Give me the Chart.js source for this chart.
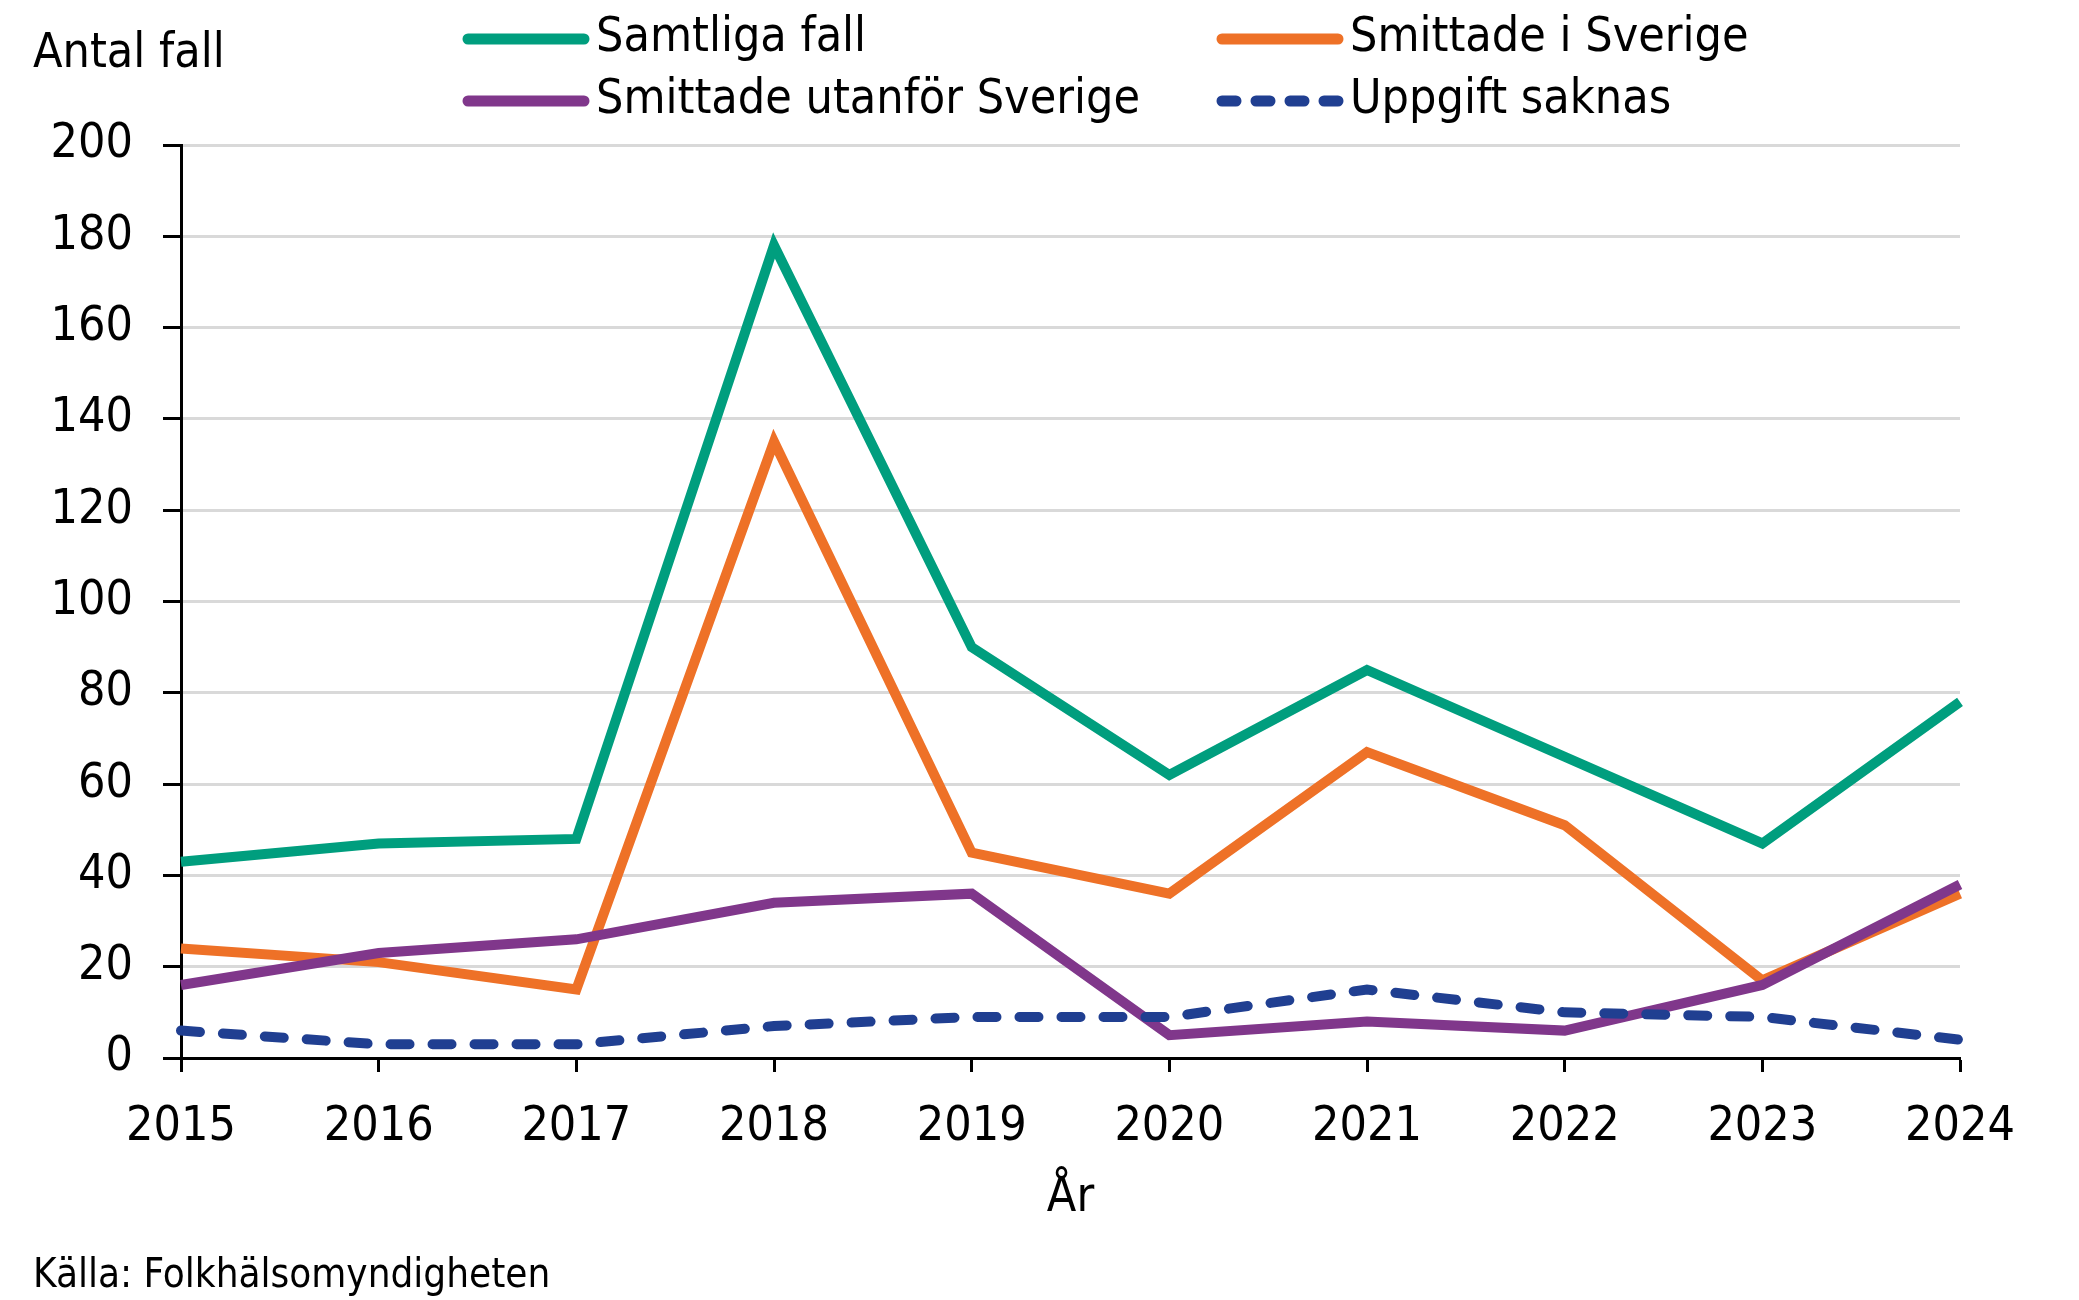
<!DOCTYPE html>
<html>
<head>
<meta charset="utf-8">
<script src="https://cdn.jsdelivr.net/npm/chart.js@4.4.1/dist/chart.umd.min.js"></script>
<style>
  html, body { margin: 0; padding: 0; background: #fff; }
  #wrap { width: 2079px; height: 1300px; }
</style>
</head>
<body>
<div id="wrap"><canvas id="chart"></canvas></div>
<script>
// data
const years = ['2015', '2016', '2017', '2018', '2019', '2020', '2021', '2022', '2023', '2024']
const samtliga = [43, 47, 48, 178, 90, 62, 85, 66, 47, 78]
const smittadeSverige = [24, 21, 15, 135, 45, 36, 67, 51, 17, 36]
const smittadeUtanfor = [16, 23, 26, 34, 36, 5, 8, 6, 16, 38]
const uppgiftSaknas = [6, 3, 3, 7, 9, 9, 15, 10, 9, 4]
const yTicks = [0, 20, 40, 60, 80, 100, 120, 140, 160, 180, 200]

const FONT = '"DejaVu Sans Condensed", "DejaVu Sans", sans-serif'
Chart.defaults.font.family = FONT
Chart.defaults.color = '#000'

// legend + loose texts drawn on the canvas
const extraText = {
  id: 'extraText',
  afterDraw(chart) {
    const ctx = chart.ctx
    ctx.save()
    ctx.fillStyle = '#000'
    ctx.textBaseline = 'middle'
    ctx.textAlign = 'left'
    ctx.font = '48px ' + FONT
    ctx.fillText('Antal fall', 33, 55)
    ctx.font = '40px ' + FONT
    ctx.fillText('Källa: Folkhälsomyndigheten', 33, 1277)

    // legend, 2 columns
    const cols = [468, 1222]
    const rows = [39, 101]
    chart.data.datasets.forEach((ds, i) => {
      const x = cols[i % 2]
      const y = rows[Math.floor(i / 2)]
      ctx.beginPath()
      ctx.strokeStyle = ds.borderColor
      ctx.lineWidth = 11
      ctx.lineCap = 'round'
      ctx.setLineDash(ds.borderDash ? [14, 20] : [])
      ctx.moveTo(x, y)
      ctx.lineTo(x + 116, y)
      ctx.stroke()
      ctx.setLineDash([])
      ctx.font = '48px ' + FONT
      ctx.fillText(ds.label, x + 128, y)
    })
    ctx.restore()
  },
}

new Chart('chart', {
  type: 'line',
  data: {
    labels: years,
    datasets: [
      { label: 'Samtliga fall', data: samtliga, borderColor: '#009E7E', order: 3 },
      { label: 'Smittade i Sverige', data: smittadeSverige, borderColor: '#EE7127', order: 2 },
      { label: 'Smittade utanför Sverige', data: smittadeUtanfor, borderColor: '#80378B', order: 1 },
      {
        label: 'Uppgift saknas',
        data: uppgiftSaknas,
        borderColor: '#203F91',
        borderDash: [19, 23],
        borderCapStyle: 'round',
        order: 0,
      },
    ],
  },
  options: {
    responsive: true,
    maintainAspectRatio: false,
    devicePixelRatio: 1,
    animation: false,
    layout: { padding: { left: 30, right: 119, top: 145, bottom: 60 } },
    elements: {
      line: { borderWidth: 10, tension: 0, fill: false, borderJoinStyle: 'miter' },
      point: { radius: 0, hoverRadius: 0 },
    },
    plugins: {
      legend: { display: false },
      title: { display: false },
      tooltip: { enabled: false },
    },
    scales: {
      x: {
        offset: false,
        grid: {
          drawOnChartArea: false,
          drawTicks: true,
          tickLength: 14,
          tickColor: '#000',
          tickWidth: 3,
        },
        border: { color: '#000', width: 3 },
        ticks: { font: { size: 48 }, color: '#000', padding: 27, maxRotation: 0, autoSkip: false },
        title: { display: true, text: 'År', font: { size: 48 }, color: '#000', padding: { top: 0, bottom: 13 } },
        afterFit(scale) { scale.height = 182 },
      },
      y: {
        min: 0,
        max: 200,
        afterBuildTicks(scale) { scale.ticks = yTicks.map((v) => ({ value: v })) },
        grid: {
          color: '#D9D9D9',
          lineWidth: 3,
          drawTicks: true,
          tickLength: 18,
          tickColor: '#000',
          tickWidth: 3,
        },
        border: { color: '#000', width: 3 },
        ticks: { font: { size: 48 }, color: '#000', padding: 30 },
        afterFit(scale) { scale.width = 151 },
      },
    },
  },
  plugins: [extraText],
})
</script>
</body>
</html>
